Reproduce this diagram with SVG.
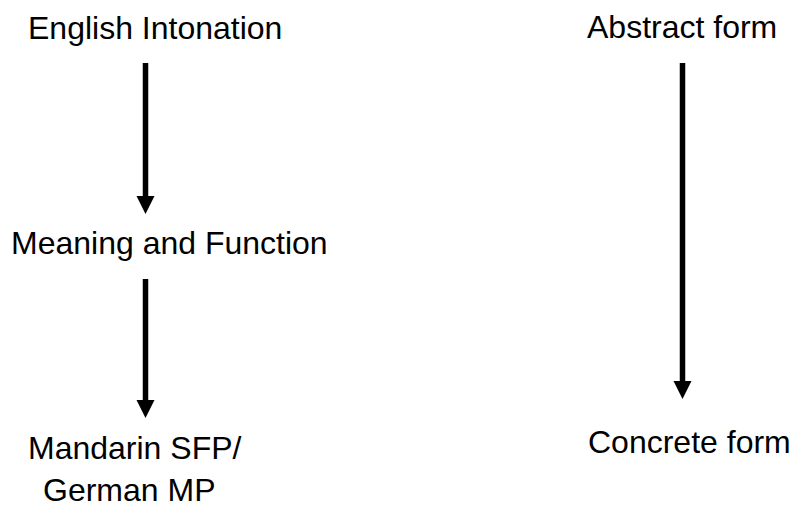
<svg xmlns="http://www.w3.org/2000/svg" width="791" height="508" viewBox="0 0 791 508">
<style>
  text { font-family: "Liberation Sans", Arial, sans-serif; font-size: 32px; fill: #000; }
  .conn { stroke: #000; stroke-width: 5.5; fill: none; }
  .head { fill: #000; }
</style>
<rect width="791" height="508" fill="#fff"/>
<g id="node-english"><text x="28" y="39">English Intonation</text></g>
<g id="node-meaning"><text x="11" y="254">Meaning and Function</text></g>
<g id="node-mandarin"><text x="28" y="459">Mandarin SFP/</text><text x="43" y="501">German MP</text></g>
<g id="node-abstract"><text x="587" y="38">Abstract form</text></g>
<g id="node-concrete"><text x="588" y="453">Concrete form</text></g>
<g id="connectors">
  <line class="conn" x1="145.5" y1="63" x2="145.5" y2="198"/>
  <polygon class="head" points="136.5,196 154.5,196 145.5,214"/>
  <line class="conn" x1="145.5" y1="279" x2="145.5" y2="402"/>
  <polygon class="head" points="136.5,400 154.5,400 145.5,418"/>
  <line class="conn" x1="682.5" y1="63" x2="682.5" y2="383"/>
  <polygon class="head" points="673.5,381 691.5,381 682.5,399"/>
</g>
</svg>
